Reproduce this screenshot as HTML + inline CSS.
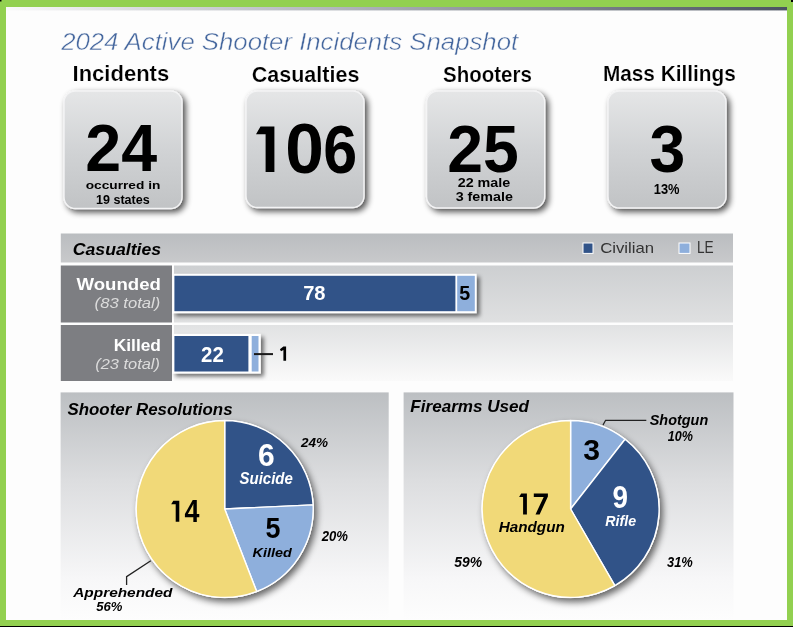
<!DOCTYPE html>
<html><head><meta charset="utf-8"><style>
html,body{margin:0;padding:0;width:793px;height:627px;overflow:hidden;background:#fff}
svg{display:block;font-family:"Liberation Sans", sans-serif;will-change:transform}
</style></head><body>
<svg width="793" height="627" viewBox="0 0 793 627">
<defs>
<linearGradient id="topline" x1="0" x2="1" y1="0" y2="0"><stop offset="0" stop-color="#fafafa"/><stop offset="0.2" stop-color="#d4d6da"/><stop offset="0.42" stop-color="#b2b6bd"/><stop offset="0.71" stop-color="#80868f"/><stop offset="1" stop-color="#4b5361"/></linearGradient>
<linearGradient id="boxg" x1="0" x2="0" y1="0" y2="1"><stop offset="0" stop-color="#e5e6e7"/><stop offset="0.5" stop-color="#d1d3d5"/><stop offset="1" stop-color="#c1c3c5"/></linearGradient>
<linearGradient id="hdr" x1="0" x2="0" y1="0" y2="1"><stop offset="0" stop-color="#babdc0"/><stop offset="1" stop-color="#c8c9cb"/></linearGradient>
<linearGradient id="row1" x1="0" x2="0" y1="0" y2="1"><stop offset="0" stop-color="#cdcfd1"/><stop offset="1" stop-color="#dfe0e1"/></linearGradient>
<linearGradient id="row2" x1="0" x2="0" y1="0" y2="1"><stop offset="0" stop-color="#e1e2e3"/><stop offset="1" stop-color="#fafafa"/></linearGradient>
<linearGradient id="panel" x1="0" x2="0" y1="0" y2="1"><stop offset="0" stop-color="#bcbfc2"/><stop offset="0.385" stop-color="#dcdddf"/><stop offset="0.82" stop-color="#f7f7f8"/><stop offset="1" stop-color="#fdfdfd"/></linearGradient>
<filter id="bshadow" x="-20%" y="-20%" width="150%" height="150%"><feGaussianBlur in="SourceAlpha" stdDeviation="3.2"/><feOffset dx="2.5" dy="3" result="b"/><feComponentTransfer><feFuncA type="linear" slope="0.7"/></feComponentTransfer><feMerge><feMergeNode/><feMergeNode in="SourceGraphic"/></feMerge></filter>
<filter id="barshadow" x="-20%" y="-40%" width="140%" height="180%"><feGaussianBlur in="SourceAlpha" stdDeviation="2.3"/><feOffset dx="3" dy="3" result="b"/><feComponentTransfer><feFuncA type="linear" slope="0.55"/></feComponentTransfer><feMerge><feMergeNode/><feMergeNode in="SourceGraphic"/></feMerge></filter>
<filter id="pshadow" x="-20%" y="-20%" width="150%" height="150%"><feGaussianBlur in="SourceAlpha" stdDeviation="3.5"/><feOffset dx="3" dy="4" result="b"/><feComponentTransfer><feFuncA type="linear" slope="0.6"/></feComponentTransfer><feMerge><feMergeNode/><feMergeNode in="SourceGraphic"/></feMerge></filter>
</defs>
<rect x="0" y="0" width="793.00" height="627.00" fill="#92d050" />
<rect x="0" y="626" width="793.00" height="1.00" fill="#000" />
<rect x="6" y="7" width="781.00" height="613.00" fill="#fdfdfd" />
<rect x="6" y="7" width="781.00" height="3.20" fill="url(#topline)" />
<rect x="6" y="10.2" width="781.00" height="0.80" fill="url(#topline)" opacity="0.35"/>
<rect x="0" y="0" width="1.50" height="1.50" fill="#000" />
<rect x="791" y="0" width="2.00" height="2.00" fill="#000" />
<text x="61.15" y="50.30" font-size="23.87" font-weight="normal" font-style="italic" fill="#45679e" textLength="456.96" lengthAdjust="spacingAndGlyphs" stroke="#fdfdfd" stroke-width="0.45">2024 Active Shooter Incidents Snapshot</text>
<text x="72.53" y="81.30" font-size="21.67" font-weight="bold" font-style="normal" fill="#000" textLength="96.68" lengthAdjust="spacingAndGlyphs" stroke="#fdfdfd" stroke-width="0.2">Incidents</text>
<text x="251.72" y="81.50" font-size="21.94" font-weight="bold" font-style="normal" fill="#000" textLength="107.67" lengthAdjust="spacingAndGlyphs" stroke="#fdfdfd" stroke-width="0.2">Casualties</text>
<text x="443.01" y="81.50" font-size="22.22" font-weight="bold" font-style="normal" fill="#000" textLength="88.83" lengthAdjust="spacingAndGlyphs" stroke="#fdfdfd" stroke-width="0.2">Shooters</text>
<text x="602.91" y="81.30" font-size="22.08" font-weight="bold" font-style="normal" fill="#000" textLength="132.94" lengthAdjust="spacingAndGlyphs" stroke="#fdfdfd" stroke-width="0.2">Mass Killings</text>
<rect x="64" y="91" width="118.0" height="117.5" rx="11.5" fill="url(#boxg)" stroke="#f4f4f5" stroke-width="1.4" filter="url(#bshadow)"/>
<rect x="246" y="91" width="118.0" height="116.5" rx="11.5" fill="url(#boxg)" stroke="#f4f4f5" stroke-width="1.4" filter="url(#bshadow)"/>
<rect x="426.6" y="91" width="118.1" height="117.0" rx="11.5" fill="url(#boxg)" stroke="#f4f4f5" stroke-width="1.4" filter="url(#bshadow)"/>
<rect x="608" y="91" width="118.0" height="117.0" rx="11.5" fill="url(#boxg)" stroke="#f4f4f5" stroke-width="1.4" filter="url(#bshadow)"/>
<text x="85.26" y="170.60" font-size="67.46" font-weight="bold" font-style="normal" fill="#000" textLength="71.78" lengthAdjust="spacingAndGlyphs" >24</text>
<path d="M260.5,126.4 L274.4,126.4 L274.4,172.1 L265.6,172.1 L265.6,134.2 L256.0,134.2 Z" fill="#000"/>
<text x="285.26" y="172.80" font-size="69.60" font-weight="bold" font-style="normal" fill="#000" textLength="38.59" lengthAdjust="spacingAndGlyphs" >0</text>
<text x="323.27" y="172.80" font-size="69.03" font-weight="bold" font-style="normal" fill="#000" textLength="33.94" lengthAdjust="spacingAndGlyphs" >6</text>
<text x="447.27" y="171.70" font-size="65.74" font-weight="bold" font-style="normal" fill="#000" textLength="71.52" lengthAdjust="spacingAndGlyphs" >25</text>
<text x="649.52" y="172.00" font-size="67.31" font-weight="bold" font-style="normal" fill="#000" textLength="35.80" lengthAdjust="spacingAndGlyphs" >3</text>
<text x="85.66" y="188.70" font-size="11.73" font-weight="bold" font-style="normal" fill="#000" textLength="74.69" lengthAdjust="spacingAndGlyphs" >occurred in</text>
<text x="96.01" y="203.50" font-size="13.03" font-weight="bold" font-style="normal" fill="#000" textLength="53.70" lengthAdjust="spacingAndGlyphs" >19 states</text>
<text x="457.70" y="187.20" font-size="12.01" font-weight="bold" font-style="normal" fill="#000" textLength="52.59" lengthAdjust="spacingAndGlyphs" >22 male</text>
<text x="455.67" y="201.40" font-size="12.14" font-weight="bold" font-style="normal" fill="#000" textLength="57.22" lengthAdjust="spacingAndGlyphs" >3 female</text>
<text x="653.79" y="193.70" font-size="13.89" font-weight="bold" font-style="normal" fill="#000" textLength="25.75" lengthAdjust="spacingAndGlyphs" >13%</text>
<rect x="60.8" y="233.5" width="672.20" height="29.00" fill="url(#hdr)" />
<rect x="174" y="265.5" width="559.00" height="57.00" fill="url(#row1)" />
<rect x="174" y="325" width="559.00" height="56.00" fill="url(#row2)" />
<rect x="60.8" y="265.5" width="111.20" height="57.00" fill="#7d7e82" />
<rect x="60.8" y="325" width="111.20" height="56.00" fill="#7d7e82" />
<text x="72.74" y="255.30" font-size="16.56" font-weight="bold" font-style="italic" fill="#000" textLength="88.47" lengthAdjust="spacingAndGlyphs" >Casualties</text>
<rect x="583" y="243" width="10.00" height="10.40" fill="#315388" stroke="#fff" stroke-width="1"/>
<text x="600.15" y="253.40" font-size="15.32" font-weight="normal" font-style="normal" fill="#333" textLength="53.94" lengthAdjust="spacingAndGlyphs" >Civilian</text>
<rect x="679" y="243" width="11.00" height="10.40" fill="#8eafdc" stroke="#fff" stroke-width="1"/>
<text x="696.88" y="253.40" font-size="16.13" font-weight="normal" font-style="normal" fill="#333" textLength="16.71" lengthAdjust="spacingAndGlyphs" >LE</text>
<text x="76.48" y="290.30" font-size="15.59" font-weight="bold" font-style="normal" fill="#fff" textLength="84.44" lengthAdjust="spacingAndGlyphs" >Wounded</text>
<text x="94.62" y="308.20" font-size="14.35" font-weight="normal" font-style="italic" fill="#dcdcdc" textLength="65.67" lengthAdjust="spacingAndGlyphs" >(83 total)</text>
<text x="113.74" y="350.70" font-size="17.39" font-weight="bold" font-style="normal" fill="#fff" textLength="47.20" lengthAdjust="spacingAndGlyphs" >Killed</text>
<text x="95.23" y="368.50" font-size="14.21" font-weight="normal" font-style="italic" fill="#dcdcdc" textLength="64.75" lengthAdjust="spacingAndGlyphs" >(23 total)</text>
<g filter="url(#barshadow)"><rect x="172.4" y="273.8" width="304.2" height="39.4" fill="#fff"/></g>
<rect x="174.4" y="275.8" width="281.00" height="35.40" fill="#315388" />
<rect x="457.2" y="275.8" width="17.60" height="35.40" fill="#8eafdc" />
<g filter="url(#barshadow)"><rect x="172.4" y="333.9" width="88.4" height="39.6" fill="#fff"/></g>
<rect x="174.4" y="336" width="74.00" height="35.50" fill="#315388" />
<rect x="251.7" y="336" width="6.80" height="35.50" fill="#8eafdc" />
<text x="303.14" y="300.30" font-size="20.19" font-weight="bold" font-style="normal" fill="#fff" textLength="22.38" lengthAdjust="spacingAndGlyphs" >78</text>
<text x="459.39" y="300.20" font-size="19.33" font-weight="bold" font-style="normal" fill="#000" textLength="10.95" lengthAdjust="spacingAndGlyphs" >5</text>
<text x="201.09" y="362.00" font-size="22.06" font-weight="bold" font-style="normal" fill="#fff" textLength="22.73" lengthAdjust="spacingAndGlyphs" >22</text>
<rect x="254" y="353.1" width="19.00" height="2.00" fill="#1a1a1a" />
<path d="M283.4,346.4 L286.1,346.4 L286.1,360.7 L283.4,360.7 L283.4,349.9 L281.0,351.3 L279.9,349.3 Z" fill="#000"/>
<rect x="60.6" y="392.4" width="328.10" height="227.60" fill="url(#panel)" />
<rect x="403.6" y="392.4" width="329.90" height="227.60" fill="url(#panel)" />
<text x="67.49" y="415.40" font-size="16.42" font-weight="bold" font-style="italic" fill="#000" textLength="165.08" lengthAdjust="spacingAndGlyphs" >Shooter Resolutions</text>
<text x="410.30" y="411.60" font-size="16.28" font-weight="bold" font-style="italic" fill="#000" textLength="118.71" lengthAdjust="spacingAndGlyphs" >Firearms Used</text>
<circle cx="224.7" cy="509" r="89.1" fill="#fff" filter="url(#pshadow)"/>
<path d="M224.7,509 L224.70,420.50 A88.5,88.5 0 0 1 313.10,504.83 Z" fill="#315388" stroke="#fff" stroke-width="1.4" stroke-linejoin="round"/>
<path d="M224.7,509 L313.10,504.83 A88.5,88.5 0 0 1 256.70,591.51 Z" fill="#8eafdc" stroke="#fff" stroke-width="1.4" stroke-linejoin="round"/>
<path d="M224.7,509 L256.70,591.51 A88.5,88.5 0 1 1 224.70,420.50 Z" fill="#f1d978" stroke="#fff" stroke-width="1.4" stroke-linejoin="round"/>
<circle cx="570.6" cy="509" r="89.1" fill="#fff" filter="url(#pshadow)"/>
<path d="M570.6,509 L570.60,420.50 A88.5,88.5 0 0 1 625.09,439.26 Z" fill="#8eafdc" stroke="#fff" stroke-width="1.4" stroke-linejoin="round"/>
<path d="M570.6,509 L625.09,439.26 A88.5,88.5 0 0 1 614.85,585.64 Z" fill="#315388" stroke="#fff" stroke-width="1.4" stroke-linejoin="round"/>
<path d="M570.6,509 L614.85,585.64 A88.5,88.5 0 1 1 570.60,420.50 Z" fill="#f1d978" stroke="#fff" stroke-width="1.4" stroke-linejoin="round"/>
<text x="257.90" y="466.10" font-size="31.22" font-weight="bold" font-style="normal" fill="#fff" textLength="16.68" lengthAdjust="spacingAndGlyphs" >6</text>
<text x="239.52" y="484.00" font-size="16.56" font-weight="bold" font-style="italic" fill="#fff" textLength="53.30" lengthAdjust="spacingAndGlyphs" >Suicide</text>
<path d="M173.3,500.7 L179.3,500.7 L179.3,521.7 L175.7,521.7 L175.7,504.2 L171.2,504.2 Z" fill="#000"/>
<text x="184.49" y="521.70" font-size="30.52" font-weight="bold" font-style="normal" fill="#000" textLength="14.95" lengthAdjust="spacingAndGlyphs" >4</text>
<text x="265.47" y="537.60" font-size="30.09" font-weight="bold" font-style="normal" fill="#000" textLength="14.98" lengthAdjust="spacingAndGlyphs" >5</text>
<text x="252.55" y="557.20" font-size="13.52" font-weight="bold" font-style="italic" fill="#000" textLength="39.21" lengthAdjust="spacingAndGlyphs" >Killed</text>
<text x="301.01" y="447.20" font-size="13.46" font-weight="bold" font-style="italic" fill="#000" textLength="27.07" lengthAdjust="spacingAndGlyphs" >24%</text>
<text x="321.71" y="541.40" font-size="14.04" font-weight="bold" font-style="italic" fill="#000" textLength="26.26" lengthAdjust="spacingAndGlyphs" >20%</text>
<text x="73.22" y="597.00" font-size="13.52" font-weight="bold" font-style="italic" fill="#000" textLength="99.22" lengthAdjust="spacingAndGlyphs" >Apprehended</text>
<text x="96.17" y="610.70" font-size="11.89" font-weight="bold" font-style="italic" fill="#000" textLength="26.19" lengthAdjust="spacingAndGlyphs" >56%</text>
<polyline points="150.8,560.8 126.6,576.6 126.6,585" fill="none" stroke="#222" stroke-width="1.3"/>
<text x="583.31" y="460.00" font-size="28.64" font-weight="bold" font-style="normal" fill="#000" textLength="16.78" lengthAdjust="spacingAndGlyphs" >3</text>
<text x="612.53" y="507.90" font-size="31.22" font-weight="bold" font-style="normal" fill="#fff" textLength="15.50" lengthAdjust="spacingAndGlyphs" >9</text>
<text x="605.35" y="525.60" font-size="13.94" font-weight="bold" font-style="italic" fill="#fff" textLength="30.85" lengthAdjust="spacingAndGlyphs" >Rifle</text>
<path d="M521.2,493.4 L526.9,493.4 L526.9,514.4 L523.1,514.4 L523.1,496.9 L519.1,496.9 Z" fill="#000"/>
<path d="M533.8,493.4 L547.9,493.4 L547.9,496.6 L539.6,514.4 L535.5,514.4 L543.7,496.9 L533.8,496.9 Z" fill="#000"/>
<text x="498.73" y="531.90" font-size="14.63" font-weight="bold" font-style="italic" fill="#000" textLength="66.11" lengthAdjust="spacingAndGlyphs" >Handgun</text>
<text x="649.72" y="425.20" font-size="15.18" font-weight="bold" font-style="italic" fill="#000" textLength="58.48" lengthAdjust="spacingAndGlyphs" >Shotgun</text>
<text x="667.70" y="441.00" font-size="14.75" font-weight="bold" font-style="italic" fill="#000" textLength="25.15" lengthAdjust="spacingAndGlyphs" >10%</text>
<text x="454.26" y="567.00" font-size="15.18" font-weight="bold" font-style="italic" fill="#000" textLength="27.82" lengthAdjust="spacingAndGlyphs" >59%</text>
<text x="667.00" y="567.00" font-size="15.18" font-weight="bold" font-style="italic" fill="#000" textLength="25.86" lengthAdjust="spacingAndGlyphs" >31%</text>
<polyline points="603,425 605.6,420.3 646.3,420.3" fill="none" stroke="#222" stroke-width="1.3"/>
</svg>
</body></html>
